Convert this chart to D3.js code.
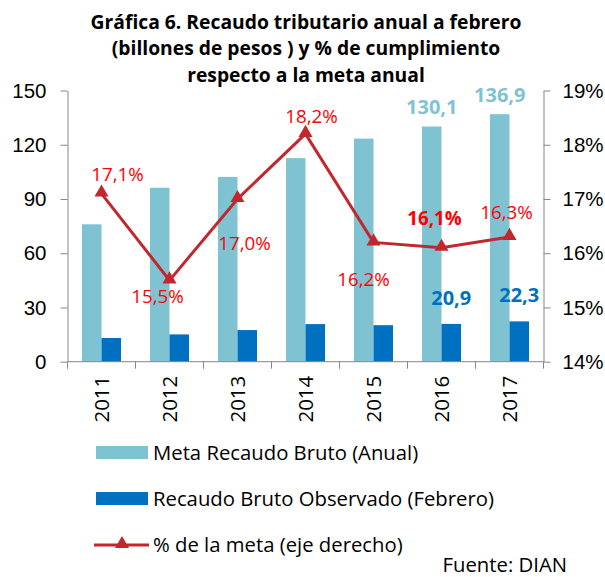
<!DOCTYPE html>
<html>
<head>
<meta charset="utf-8">
<script src="https://cdn.jsdelivr.net/npm/d3@7"></script>
<style>
  body { margin: 0; background: #fff; }
  svg { display: block; font-family: "Open Sans", "Noto Sans", sans-serif; }
  .axis path, .axis line { stroke: #868686; }
  .axis text { fill: #000; font-size: 20.5px; }
</style>
</head>
<body>
<svg id="chart"></svg>
<script>
const years = ['2011', '2012', '2013', '2014', '2015', '2016', '2017']
const meta = [76, 96.2, 102.2, 112.6, 123.4, 130.1, 136.9]
const observado = [13.1, 15.1, 17.5, 20.8, 20.2, 20.9, 22.3]
const pctMeta = [17.1, 15.5, 17.0, 18.2, 16.2, 16.1, 16.3]

const leftTicks = [0, 30, 60, 90, 120, 150]
const rightTicks = [14, 15, 16, 17, 18, 19]

const titleLines = [
  'Gráfica 6. Recaudo tributario anual a febrero',
  '(billones de pesos ) y % de cumplimiento',
  'respecto a la meta anual'
]
const legendLabels = [
  'Meta Recaudo Bruto (Anual)',
  'Recaudo Bruto Observado (Febrero)',
  '% de la meta (eje derecho)'
]
// years whose bars get a value label
const labelledYears = ['2016', '2017']

// where each % label sits relative to its point
const pctLabelPos = [
  {dx: 16, dy: -13, bold: false},
  {dx: -12, dy: 23, bold: false},
  {dx: 7, dy: 51, bold: false},
  {dx: 6, dy: -11, bold: false},
  {dx: -10, dy: 44, bold: false},
  {dx: -7, dy: -23, bold: true},
  {dx: -3, dy: -18, bold: false}
]

const colors = {
  meta: '#7fc3d3',
  obs: '#0070c0',
  line: '#c1272d',
  pctText: '#ff0000'
}

const width = 605, height = 577
const svg = d3.select('#chart').attr('width', width).attr('height', height)

const plot = {left: 67.5, right: 543.5, top: 90.5, bottom: 361.7}

const x = d3.scaleBand().domain(years).range([plot.left, plot.right])
const xInner = d3.scaleBand().domain(['meta', 'obs']).range([0, x.bandwidth()]).paddingOuter(0.744)
const yLeft = d3.scaleLinear().domain([0, 150]).range([plot.bottom, plot.top])
const yRight = d3.scaleLinear().domain([14, 19]).range([plot.bottom, plot.top])

// title
svg.append('g')
  .selectAll('text')
  .data(titleLines)
  .join('text')
  .attr('x', 306)
  .attr('y', (d, i) => 28.5 + i * 26.7)
  .attr('text-anchor', 'middle')
  .style('font-weight', 'bold')
  .style('font-size', '19.3px')
  .text(d => d)

// bars
const groups = svg.append('g')
  .selectAll('g')
  .data(years)
  .join('g')
  .attr('transform', d => 'translate(' + x(d) + ',0)')

groups.append('rect')
  .attr('x', xInner('meta'))
  .attr('width', xInner.bandwidth())
  .attr('y', (d, i) => yLeft(meta[i]))
  .attr('height', (d, i) => yLeft(0) - yLeft(meta[i]))
  .attr('fill', colors.meta)

groups.append('rect')
  .attr('x', xInner('obs'))
  .attr('width', xInner.bandwidth())
  .attr('y', (d, i) => yLeft(observado[i]))
  .attr('height', (d, i) => yLeft(0) - yLeft(observado[i]))
  .attr('fill', colors.obs)

const fmt = v => d3.format('.1f')(v).replace('.', ',')

groups.filter(d => labelledYears.includes(d)).each(function (d) {
  const i = years.indexOf(d)
  const g = d3.select(this)
  g.append('text')
    .attr('x', xInner('meta') + xInner.bandwidth() / 2)
    .attr('y', yLeft(meta[i]) - 12)
    .attr('text-anchor', 'middle')
    .style('font-weight', 'bold')
    .style('font-size', '20px')
    .attr('fill', colors.meta)
    .text(fmt(meta[i]))
  g.append('text')
    .attr('x', xInner('obs') + xInner.bandwidth() / 2)
    .attr('y', yLeft(observado[i]) - 19)
    .attr('text-anchor', 'middle')
    .style('font-weight', 'bold')
    .style('font-size', '20px')
    .attr('fill', colors.obs)
    .text(fmt(observado[i]))
})

// axes
svg.append('g')
  .attr('class', 'axis')
  .attr('transform', 'translate(' + plot.left + ',0)')
  .call(d3.axisLeft(yLeft).tickValues(leftTicks).tickSize(7).tickPadding(14).tickSizeOuter(0))

svg.append('g')
  .attr('class', 'axis')
  .attr('transform', 'translate(' + plot.right + ',0)')
  .call(d3.axisRight(yRight).tickValues(rightTicks).tickSize(7).tickPadding(12).tickSizeOuter(0)
    .tickFormat(d => d + '%'))

const bottomAxis = svg.append('g')
  .attr('class', 'axis')
  .attr('transform', 'translate(0,' + plot.bottom + ')')

bottomAxis.append('path')
  .attr('d', 'M' + plot.left + ',0H' + plot.right)
  .attr('fill', 'none')

bottomAxis.selectAll('line')
  .data(years.map(d => x(d)).concat([plot.right]))
  .join('line')
  .attr('x1', d => d).attr('x2', d => d)
  .attr('y1', 0).attr('y2', 7)

bottomAxis.selectAll('text')
  .data(years)
  .join('text')
  .attr('transform', d => 'translate(' + (x(d) + x.bandwidth() / 2 + 7.5) + ',14) rotate(-90)')
  .attr('text-anchor', 'end')
  .text(d => d)

// % line
const pctLine = d3.line()
  .x((d, i) => x(years[i]) + x.bandwidth() / 2)
  .y(d => yRight(d))

svg.append('path')
  .datum(pctMeta)
  .attr('d', pctLine)
  .attr('fill', 'none')
  .attr('stroke', colors.line)
  .attr('stroke-width', 3)

const tri = d3.symbol().type(d3.symbolTriangle).size(85)

svg.append('g')
  .selectAll('path')
  .data(pctMeta)
  .join('path')
  .attr('d', tri)
  .attr('transform', (d, i) => 'translate(' + (x(years[i]) + x.bandwidth() / 2) + ',' + (yRight(d) - 1) + ')')
  .attr('fill', colors.line)

svg.append('g')
  .selectAll('text')
  .data(pctMeta)
  .join('text')
  .attr('x', (d, i) => x(years[i]) + x.bandwidth() / 2 + pctLabelPos[i].dx)
  .attr('y', (d, i) => yRight(d) + pctLabelPos[i].dy)
  .attr('text-anchor', 'middle')
  .style('font-size', '18.8px')
  .style('font-weight', (d, i) => pctLabelPos[i].bold ? 'bold' : 'normal')
  .attr('fill', colors.pctText)
  .text(d => fmt(d) + '%')

// legend
const legend = svg.append('g').attr('transform', 'translate(96,0)')
const legendRows = [
  {y: 452.5, kind: 'meta'},
  {y: 498.5, kind: 'obs'},
  {y: 545, kind: 'line'}
]

legendRows.forEach((row, i) => {
  const g = legend.append('g').attr('transform', 'translate(0,' + row.y + ')')
  if (row.kind === 'line') {
    g.append('line')
      .attr('x1', -2).attr('x2', 53).attr('y1', 0).attr('y2', 0)
      .attr('stroke', colors.line).attr('stroke-width', 3)
    g.append('path')
      .attr('d', tri)
      .attr('transform', 'translate(26,-1)')
      .attr('fill', colors.line)
  } else {
    g.append('rect')
      .attr('x', 0).attr('y', -6.5)
      .attr('width', 52).attr('height', 13)
      .attr('fill', colors[row.kind])
  }
  g.append('text')
    .attr('x', 57)
    .attr('y', 7)
    .style('font-size', '20.3px')
    .text(legendLabels[i])
})

svg.append('text')
  .attr('x', 567)
  .attr('y', 571.5)
  .attr('text-anchor', 'end')
  .style('font-size', '20.3px')
  .text('Fuente: DIAN')
</script>
</body>
</html>
